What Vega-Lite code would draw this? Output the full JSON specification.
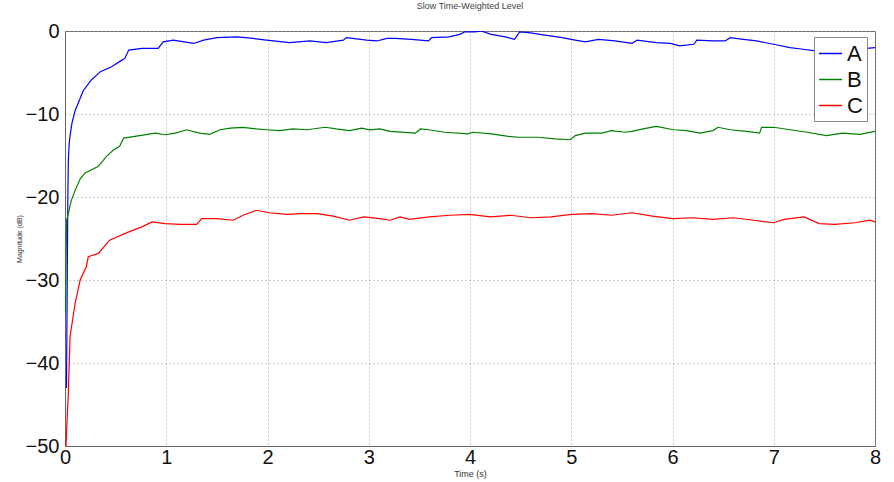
{
  "$schema": "https://vega.github.io/schema/vega-lite/v6.json",
  "autosize": {"type": "none"},
  "width": 810,
  "height": 415,
  "padding": {"left": 65, "top": 31, "right": 19, "bottom": 36},
  "background": "white",
  "config": {
    "font": "Liberation Sans",
    "view": {"stroke": "#666666", "strokeWidth": 1},
    "axis": {
      "domainColor": "#666666",
      "gridColor": "#9a9a9a",
      "gridDash": [1, 3],
      "gridOpacity": 1,
      "gridWidth": 1,
      "labelFont": "Liberation Sans",
      "labelFontSize": 20,
      "labelColor": "#111111",
      "tickColor": "#666666",
      "titleFont": "Liberation Sans",
      "titleFontWeight": "normal",
      "titleColor": "#333333"
    }
  },
  "title": {
    "text": "Slow Time-Weighted Level",
    "fontSize": 9,
    "font": "Liberation Sans",
    "fontWeight": "normal",
    "color": "#444444",
    "offset": 10
  },
  "data": {
    "values": [
      {"t": 0.015, "v": -43, "s": "A"},
      {"t": 0.022, "v": -30, "s": "A"},
      {"t": 0.028, "v": -20, "s": "A"},
      {"t": 0.033, "v": -15.5, "s": "A"},
      {"t": 0.04, "v": -13.8, "s": "A"},
      {"t": 0.049, "v": -12.7, "s": "A"},
      {"t": 0.07, "v": -11, "s": "A"},
      {"t": 0.1, "v": -9.6, "s": "A"},
      {"t": 0.13, "v": -8.7, "s": "A"},
      {"t": 0.18, "v": -7.2, "s": "A"},
      {"t": 0.26, "v": -5.9, "s": "A"},
      {"t": 0.35, "v": -4.9, "s": "A"},
      {"t": 0.46, "v": -4.3, "s": "A"},
      {"t": 0.55, "v": -3.6, "s": "A"},
      {"t": 0.59, "v": -3.3, "s": "A"},
      {"t": 0.63, "v": -2.3, "s": "A"},
      {"t": 0.76, "v": -2.1, "s": "A"},
      {"t": 0.92, "v": -2.1, "s": "A"},
      {"t": 0.97, "v": -1.3, "s": "A"},
      {"t": 1.07, "v": -1.1, "s": "A"},
      {"t": 1.27, "v": -1.5, "s": "A"},
      {"t": 1.37, "v": -1.1, "s": "A"},
      {"t": 1.5, "v": -0.8, "s": "A"},
      {"t": 1.7, "v": -0.7, "s": "A"},
      {"t": 1.86, "v": -0.9, "s": "A"},
      {"t": 1.99, "v": -1.1, "s": "A"},
      {"t": 2.22, "v": -1.4, "s": "A"},
      {"t": 2.42, "v": -1.2, "s": "A"},
      {"t": 2.58, "v": -1.4, "s": "A"},
      {"t": 2.75, "v": -1.1, "s": "A"},
      {"t": 2.78, "v": -0.8, "s": "A"},
      {"t": 2.98, "v": -1.1, "s": "A"},
      {"t": 3.08, "v": -1.2, "s": "A"},
      {"t": 3.18, "v": -0.9, "s": "A"},
      {"t": 3.26, "v": -0.9, "s": "A"},
      {"t": 3.42, "v": -1.0, "s": "A"},
      {"t": 3.59, "v": -1.2, "s": "A"},
      {"t": 3.62, "v": -0.8, "s": "A"},
      {"t": 3.79, "v": -0.7, "s": "A"},
      {"t": 3.9, "v": -0.4, "s": "A"},
      {"t": 3.95, "v": -0.1, "s": "A"},
      {"t": 4.05, "v": -0.1, "s": "A"},
      {"t": 4.11, "v": 0, "s": "A"},
      {"t": 4.21, "v": -0.4, "s": "A"},
      {"t": 4.35, "v": -0.7, "s": "A"},
      {"t": 4.44, "v": -1.0, "s": "A"},
      {"t": 4.49, "v": -0.1, "s": "A"},
      {"t": 4.58, "v": -0.2, "s": "A"},
      {"t": 4.74, "v": -0.5, "s": "A"},
      {"t": 4.91, "v": -0.8, "s": "A"},
      {"t": 5.04, "v": -1.1, "s": "A"},
      {"t": 5.14, "v": -1.3, "s": "A"},
      {"t": 5.27, "v": -1.0, "s": "A"},
      {"t": 5.43, "v": -1.2, "s": "A"},
      {"t": 5.6, "v": -1.5, "s": "A"},
      {"t": 5.65, "v": -1.1, "s": "A"},
      {"t": 5.84, "v": -1.4, "s": "A"},
      {"t": 5.98, "v": -1.5, "s": "A"},
      {"t": 6.07, "v": -1.8, "s": "A"},
      {"t": 6.21, "v": -1.6, "s": "A"},
      {"t": 6.24, "v": -1.1, "s": "A"},
      {"t": 6.4, "v": -1.2, "s": "A"},
      {"t": 6.52, "v": -1.2, "s": "A"},
      {"t": 6.57, "v": -0.8, "s": "A"},
      {"t": 6.7, "v": -1.0, "s": "A"},
      {"t": 6.83, "v": -1.2, "s": "A"},
      {"t": 7.0, "v": -1.6, "s": "A"},
      {"t": 7.16, "v": -2.0, "s": "A"},
      {"t": 7.29, "v": -2.2, "s": "A"},
      {"t": 7.41, "v": -2.4, "s": "A"},
      {"t": 7.6, "v": -2.7, "s": "A"},
      {"t": 7.8, "v": -2.5, "s": "A"},
      {"t": 7.92, "v": -2.1, "s": "A"},
      {"t": 8.0, "v": -2.0, "s": "A"},

      {"t": 0.005, "v": -34, "s": "B"},
      {"t": 0.01, "v": -28, "s": "B"},
      {"t": 0.016, "v": -22.8, "s": "B"},
      {"t": 0.033, "v": -22, "s": "B"},
      {"t": 0.06, "v": -20.5, "s": "B"},
      {"t": 0.1, "v": -19.2, "s": "B"},
      {"t": 0.15, "v": -17.8, "s": "B"},
      {"t": 0.2, "v": -17.1, "s": "B"},
      {"t": 0.33, "v": -16.3, "s": "B"},
      {"t": 0.41, "v": -15.1, "s": "B"},
      {"t": 0.48, "v": -14.3, "s": "B"},
      {"t": 0.54, "v": -13.9, "s": "B"},
      {"t": 0.58, "v": -12.9, "s": "B"},
      {"t": 0.69, "v": -12.7, "s": "B"},
      {"t": 0.89, "v": -12.3, "s": "B"},
      {"t": 0.99, "v": -12.5, "s": "B"},
      {"t": 1.09, "v": -12.3, "s": "B"},
      {"t": 1.2, "v": -11.9, "s": "B"},
      {"t": 1.33, "v": -12.3, "s": "B"},
      {"t": 1.43, "v": -12.45, "s": "B"},
      {"t": 1.53, "v": -11.9, "s": "B"},
      {"t": 1.63, "v": -11.7, "s": "B"},
      {"t": 1.76, "v": -11.6, "s": "B"},
      {"t": 1.89, "v": -11.8, "s": "B"},
      {"t": 1.99, "v": -11.9, "s": "B"},
      {"t": 2.12, "v": -12.0, "s": "B"},
      {"t": 2.25, "v": -11.8, "s": "B"},
      {"t": 2.39, "v": -11.9, "s": "B"},
      {"t": 2.57, "v": -11.6, "s": "B"},
      {"t": 2.68, "v": -11.8, "s": "B"},
      {"t": 2.81, "v": -12.0, "s": "B"},
      {"t": 2.93, "v": -11.7, "s": "B"},
      {"t": 3.01, "v": -11.9, "s": "B"},
      {"t": 3.11, "v": -11.8, "s": "B"},
      {"t": 3.21, "v": -12.1, "s": "B"},
      {"t": 3.46, "v": -12.3, "s": "B"},
      {"t": 3.51, "v": -11.8, "s": "B"},
      {"t": 3.59, "v": -11.9, "s": "B"},
      {"t": 3.75, "v": -12.2, "s": "B"},
      {"t": 3.98, "v": -12.4, "s": "B"},
      {"t": 4.03, "v": -12.2, "s": "B"},
      {"t": 4.21, "v": -12.4, "s": "B"},
      {"t": 4.38, "v": -12.7, "s": "B"},
      {"t": 4.48, "v": -12.8, "s": "B"},
      {"t": 4.67, "v": -12.8, "s": "B"},
      {"t": 4.84, "v": -13.0, "s": "B"},
      {"t": 4.99, "v": -13.1, "s": "B"},
      {"t": 5.04, "v": -12.6, "s": "B"},
      {"t": 5.14, "v": -12.3, "s": "B"},
      {"t": 5.3, "v": -12.3, "s": "B"},
      {"t": 5.4, "v": -12.0, "s": "B"},
      {"t": 5.53, "v": -12.2, "s": "B"},
      {"t": 5.6, "v": -12.1, "s": "B"},
      {"t": 5.71, "v": -11.8, "s": "B"},
      {"t": 5.84, "v": -11.5, "s": "B"},
      {"t": 6.01, "v": -11.9, "s": "B"},
      {"t": 6.14, "v": -12.0, "s": "B"},
      {"t": 6.27, "v": -12.3, "s": "B"},
      {"t": 6.4, "v": -12.0, "s": "B"},
      {"t": 6.45, "v": -11.6, "s": "B"},
      {"t": 6.57, "v": -11.9, "s": "B"},
      {"t": 6.73, "v": -12.1, "s": "B"},
      {"t": 6.86, "v": -12.3, "s": "B"},
      {"t": 6.88, "v": -11.6, "s": "B"},
      {"t": 7.0, "v": -11.6, "s": "B"},
      {"t": 7.16, "v": -11.9, "s": "B"},
      {"t": 7.33, "v": -12.2, "s": "B"},
      {"t": 7.52, "v": -12.6, "s": "B"},
      {"t": 7.68, "v": -12.3, "s": "B"},
      {"t": 7.85, "v": -12.45, "s": "B"},
      {"t": 8.0, "v": -12.1, "s": "B"},

      {"t": 0.01, "v": -50, "s": "C"},
      {"t": 0.02, "v": -47, "s": "C"},
      {"t": 0.033, "v": -43.6, "s": "C"},
      {"t": 0.05, "v": -36.8, "s": "C"},
      {"t": 0.1, "v": -32.8, "s": "C"},
      {"t": 0.15, "v": -30, "s": "C"},
      {"t": 0.21, "v": -28.4, "s": "C"},
      {"t": 0.23, "v": -27.2, "s": "C"},
      {"t": 0.33, "v": -26.8, "s": "C"},
      {"t": 0.44, "v": -25.2, "s": "C"},
      {"t": 0.63, "v": -24.2, "s": "C"},
      {"t": 0.76, "v": -23.6, "s": "C"},
      {"t": 0.86, "v": -23.0, "s": "C"},
      {"t": 0.99, "v": -23.2, "s": "C"},
      {"t": 1.14, "v": -23.3, "s": "C"},
      {"t": 1.3, "v": -23.3, "s": "C"},
      {"t": 1.35, "v": -22.6, "s": "C"},
      {"t": 1.5, "v": -22.6, "s": "C"},
      {"t": 1.66, "v": -22.8, "s": "C"},
      {"t": 1.76, "v": -22.2, "s": "C"},
      {"t": 1.89, "v": -21.6, "s": "C"},
      {"t": 2.02, "v": -21.9, "s": "C"},
      {"t": 2.19, "v": -22.1, "s": "C"},
      {"t": 2.32, "v": -22.0, "s": "C"},
      {"t": 2.49, "v": -22.0, "s": "C"},
      {"t": 2.65, "v": -22.3, "s": "C"},
      {"t": 2.81, "v": -22.8, "s": "C"},
      {"t": 2.95, "v": -22.4, "s": "C"},
      {"t": 3.11, "v": -22.6, "s": "C"},
      {"t": 3.21, "v": -22.8, "s": "C"},
      {"t": 3.31, "v": -22.4, "s": "C"},
      {"t": 3.4, "v": -22.7, "s": "C"},
      {"t": 3.6, "v": -22.4, "s": "C"},
      {"t": 3.8, "v": -22.2, "s": "C"},
      {"t": 4.0, "v": -22.1, "s": "C"},
      {"t": 4.2, "v": -22.4, "s": "C"},
      {"t": 4.4, "v": -22.2, "s": "C"},
      {"t": 4.6, "v": -22.5, "s": "C"},
      {"t": 4.8, "v": -22.4, "s": "C"},
      {"t": 5.0, "v": -22.1, "s": "C"},
      {"t": 5.2, "v": -22.0, "s": "C"},
      {"t": 5.4, "v": -22.2, "s": "C"},
      {"t": 5.6, "v": -21.9, "s": "C"},
      {"t": 5.8, "v": -22.3, "s": "C"},
      {"t": 6.0, "v": -22.6, "s": "C"},
      {"t": 6.2, "v": -22.5, "s": "C"},
      {"t": 6.4, "v": -22.7, "s": "C"},
      {"t": 6.6, "v": -22.5, "s": "C"},
      {"t": 6.8, "v": -22.8, "s": "C"},
      {"t": 7.0, "v": -23.1, "s": "C"},
      {"t": 7.1, "v": -22.7, "s": "C"},
      {"t": 7.3, "v": -22.4, "s": "C"},
      {"t": 7.45, "v": -23.2, "s": "C"},
      {"t": 7.6, "v": -23.3, "s": "C"},
      {"t": 7.8, "v": -23.1, "s": "C"},
      {"t": 7.95, "v": -22.8, "s": "C"},
      {"t": 8.0, "v": -23.0, "s": "C"}
    ]
  },
  "mark": {"type": "line", "strokeWidth": 1.2, "interpolate": "linear", "clip": true},
  "encoding": {
    "x": {
      "field": "t",
      "type": "quantitative",
      "scale": {"domain": [0, 8], "nice": false, "zero": false},
      "axis": {
        "title": "Time (s)",
        "titleFontSize": 9,
        "titlePadding": 2,
        "values": [0, 1, 2, 3, 4, 5, 6, 7, 8],
        "labelPadding": 1,
        "tickSize": 0,
        "labelFlush": false,
        "grid": true
      }
    },
    "y": {
      "field": "v",
      "type": "quantitative",
      "scale": {"domain": [-50, 0], "nice": false, "zero": false},
      "axis": {
        "title": "Magnitude (dB)",
        "titleFontSize": 7,
        "titlePadding": 3,
        "values": [0, -10, -20, -30, -40, -50],
        "labelPadding": 6,
        "tickSize": 0,
        "labelFlush": false,
        "grid": true
      }
    },
    "color": {
      "field": "s",
      "type": "nominal",
      "scale": {"domain": ["A", "B", "C"], "range": ["#0000ff", "#008000", "#ff0000"]},
      "legend": {
        "title": null,
        "orient": "none",
        "legendX": 749,
        "legendY": 6,
        "fillColor": "white",
        "strokeColor": "#888888",
        "padding": 4,
        "symbolType": "stroke",
        "symbolSize": 529,
        "symbolStrokeWidth": 1.5,
        "labelFontSize": 22,
        "labelFont": "Liberation Sans",
        "labelColor": "#111111",
        "rowPadding": 2,
        "labelOffset": 4
      }
    }
  }
}
